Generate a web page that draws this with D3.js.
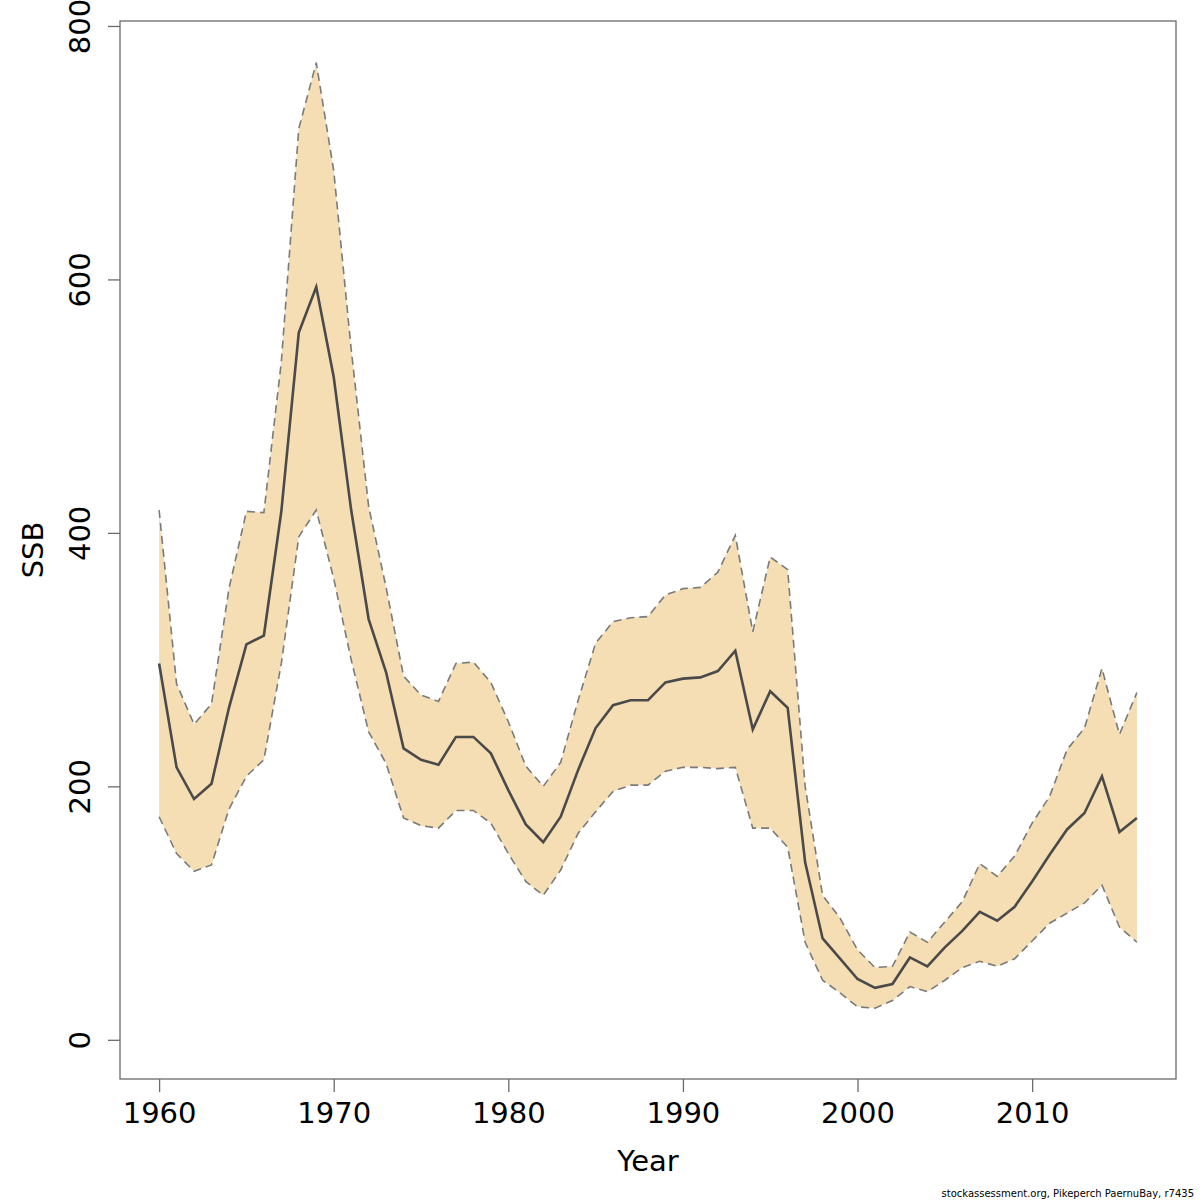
<!DOCTYPE html>
<html>
<head>
<meta charset="utf-8">
<script src="https://cdn.jsdelivr.net/npm/d3@7"></script>
<style>
body{margin:0;background:#fff;}
text{font-family:"DejaVu Sans",sans-serif;fill:#000;}
</style>
</head>
<body>
<div id="chart"></div>
<script>
// data
var years = [1960,1961,1962,1963,1964,1965,1966,1967,1968,1969,
	1970,1971,1972,1973,1974,1975,1976,1977,1978,1979,
	1980,1981,1982,1983,1984,1985,1986,1987,1988,1989,
	1990,1991,1992,1993,1994,1995,1996,1997,1998,1999,
	2000,2001,2002,2003,2004,2005,2006,2007,2008,2009,
	2010,2011,2012,2013,2014,2015,2016];
var ssb = [297,215,190,202,262,312,319,417,558,594,
	523,418,332,290,230,221,217,239,239,226,
	197,170,156,176,213,246,264,268,268,282,
	285,286,291,307,245,275,262,140,80,64,
	48,41,44,65,58,73,86,101,94,105,
	125,146,166,179,208,164,175];
var ssbLow = [176,147,133,138,182,208,221,297,397,418,
	364,300,243,218,175,169,167,181,181,171,
	147,125,114,134,163,180,196,201,201,212,
	215,215,214,215,167,167,152,77,47,37,
	26,25,31,42,38,47,57,62,58,64,
	78,92,100,108,122,89,77];
var ssbHigh = [418,281,249,265,356,417,416,535,719,771,
	686,545,421,357,287,272,267,297,298,282,
	251,216,200,219,268,313,330,333,334,351,
	356,357,369,398,322,381,371,200,114,96,
	71,57,58,85,77,93,109,139,129,145,
	171,192,229,246,293,241,274];
var xTicks = [1960,1970,1980,1990,2000,2010];
var yTicks = [0,200,400,600,800];
var xLab = "Year";
var yLab = "SSB";
var footNote = "stockassessment.org, Pikeperch  PaernuBay, r7435";

var W = 1200, H = 1200;
var box = {left:120, top:21, right:1176, bottom:1079};

var svg = d3.select("#chart").append("svg")
	.attr("width", W).attr("height", H);

// R style 4% padding on both axes
var xr = d3.extent(years), xp = (xr[1]-xr[0])*0.04;
var x = d3.scaleLinear().domain([xr[0]-xp, xr[1]+xp]).range([box.left, box.right]);
var yr = [0, 773], yp = (yr[1]-yr[0])*0.04;
var y = d3.scaleLinear().domain([yr[0]-yp, yr[1]+yp]).range([box.bottom, box.top]);

var rows = years.map(function(d,i){ return {yr:d, mid:ssb[i], lo:ssbLow[i], hi:ssbHigh[i]}; });

//band
var band = d3.area()
	.x(function(d){ return x(d.yr); })
	.y0(function(d){ return y(d.lo); })
	.y1(function(d){ return y(d.hi); });
svg.append("path").datum(rows)
	.attr("d", band)
	.attr("fill", "#F5DEB3")
	.attr("stroke", "none");

//dashed bounds
var lineLo = d3.line().x(function(d){ return x(d.yr); }).y(function(d){ return y(d.lo); });
var lineHi = d3.line().x(function(d){ return x(d.yr); }).y(function(d){ return y(d.hi); });
[lineLo, lineHi].forEach(function(l){
	svg.append("path").datum(rows)
		.attr("d", l)
		.attr("fill", "none")
		.attr("stroke", "#7a7a7a")
		.attr("stroke-width", 1.6)
		.attr("stroke-dasharray", "8,5");
});

//estimate
var lineMid = d3.line().x(function(d){ return x(d.yr); }).y(function(d){ return y(d.mid); });
svg.append("path").datum(rows)
	.attr("d", lineMid)
	.attr("fill", "none")
	.attr("stroke", "#4a4a4a")
	.attr("stroke-width", 2.6)
	.attr("stroke-linejoin", "miter");

//box
svg.append("rect")
	.attr("x", box.left).attr("y", box.top)
	.attr("width", box.right-box.left).attr("height", box.bottom-box.top)
	.attr("fill", "none").attr("stroke", "#6b6b6b").attr("stroke-width", 1.3);

//x axis
var xAxis = d3.axisBottom(x).tickValues(xTicks).tickSize(13).tickPadding(8).tickFormat(d3.format("d"));
var gx = svg.append("g").attr("transform", "translate(0," + box.bottom + ")").call(xAxis);
gx.select(".domain").remove();
gx.selectAll("line").attr("stroke", "#6b6b6b").attr("stroke-width", 1.3);
gx.selectAll("text").attr("font-size", "29px").attr("font-family", "DejaVu Sans").attr("fill", "#000")
	.attr("dy", null).attr("y", 44);

//y axis
var yAxis = d3.axisLeft(y).tickValues(yTicks).tickSize(12).tickFormat(d3.format("d"));
var gy = svg.append("g").attr("transform", "translate(" + box.left + ",0)").call(yAxis);
gy.select(".domain").remove();
gy.selectAll("line").attr("stroke", "#6b6b6b").attr("stroke-width", 1.3);
gy.selectAll("text")
	.attr("font-size", "29px").attr("font-family", "DejaVu Sans").attr("fill", "#000")
	.attr("x", null).attr("dy", null)
	.attr("text-anchor", "middle")
	.attr("transform", "translate(-30,0) rotate(-90)");

//labels
svg.append("text")
	.attr("x", (box.left+box.right)/2).attr("y", 1171)
	.attr("text-anchor", "middle").attr("font-size", "29px")
	.text(xLab);
svg.append("text")
	.attr("transform", "translate(43," + (box.top+box.bottom)/2 + ") rotate(-90)")
	.attr("text-anchor", "middle").attr("font-size", "29px")
	.text(yLab);
svg.append("text")
	.attr("x", 1194).attr("y", 1197)
	.attr("text-anchor", "end").attr("font-size", "10px")
	.text(footNote);
</script>
</body>
</html>
